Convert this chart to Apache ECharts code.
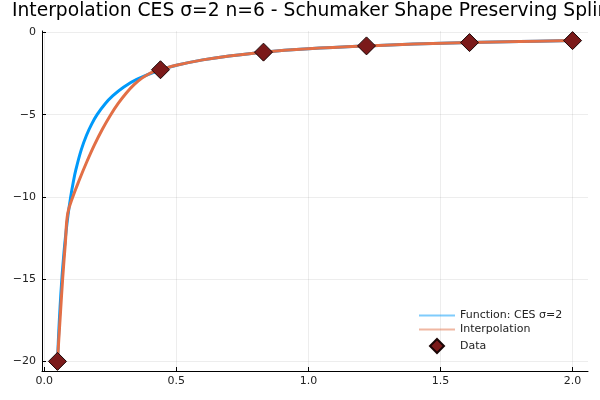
<!DOCTYPE html>
<html>
<head>
<meta charset="utf-8">
<script src="https://cdn.jsdelivr.net/npm/echarts@6/dist/echarts.min.js"></script>
<style>
  html, body { margin: 0; padding: 0; background: #fff; }
  #chart { width: 600px; height: 400px; }
</style>
</head>
<body>
<div id="chart"></div>
<script>
// values
const funcX = [0.05, 0.055, 0.06, 0.065, 0.07, 0.075, 0.08, 0.09, 0.1, 0.11, 0.12, 0.14, 0.16, 0.18, 0.2, 0.23, 0.26, 0.3, 0.35, 0.44, 0.5, 0.6, 0.7, 0.83, 1.0, 1.22, 1.4, 1.61, 1.8, 2.0];
const funcY = [-20, -18.18, -16.67, -15.38, -14.29, -13.33, -12.5, -11.11, -10, -9.09, -8.33, -7.14, -6.25, -5.56, -5, -4.35, -3.85, -3.33, -2.86, -2.27, -2, -1.67, -1.43, -1.2, -1, -0.82, -0.71, -0.62, -0.56, -0.5];

const interpX = [0.05, 0.06, 0.07, 0.08, 0.089, 0.11, 0.133, 0.16, 0.19, 0.22, 0.25, 0.28, 0.31, 0.34, 0.37, 0.40, 0.42, 0.44, 0.5, 0.6, 0.7, 0.83, 1.0, 1.22, 1.4, 1.61, 1.8, 2.0];
const interpY = [-20, -17.4, -14.9, -12.8, -11.0, -9.92, -8.96, -7.91, -6.84, -5.89, -5.05, -4.32, -3.70, -3.18, -2.78, -2.49, -2.35, -2.27, -2.0, -1.67, -1.43, -1.2, -1.0, -0.82, -0.71, -0.62, -0.56, -0.5];

const dataX = [0.05, 0.44, 0.83, 1.22, 1.61, 2.0];
const dataY = [-20, -2.27, -1.2, -0.82, -0.62, -0.5];

const xTicks = [0, 0.5, 1.0, 1.5, 2.0];
const yTicks = [-20, -15, -10, -5, 0];

function pairs(xs, ys) {
  return xs.map((x, i) => [x, ys[i]]);
}

const lineIcon = "path://M0,0 L36,0 L36,2 L0,2 Z";
const diamondIcon = "path://M6,0 L12,6 L6,12 L0,6 Z";

var chart = echarts.init(document.getElementById("chart"), null, { renderer: "canvas" });

var option = {
  animation: false,
  title: {
    text: "Interpolation CES σ=2 n=6 - Schumaker Shape Preserving Spline",
    left: 12,
    top: 2,
    padding: 0,
    textStyle: { fontFamily: "DejaVu Sans", fontSize: 18.7, fontWeight: "normal", color: "#000" },
  },
  grid: { left: 42, right: 12, top: 31, bottom: 29, containLabel: false },
  legend: {
    orient: "vertical",
    left: 419,
    top: 310,
    padding: 0,
    itemWidth: 36,
    itemHeight: 14,
    itemGap: 3,
    symbolKeepAspect: true,
    textStyle: { fontFamily: "DejaVu Sans", fontSize: 11, color: "#222" },
    data: [
      { name: "Function: CES σ=2", icon: lineIcon, itemStyle: { opacity: 0.5 } },
      { name: "Interpolation", icon: lineIcon, itemStyle: { opacity: 0.5 } },
      { name: "Data", icon: diamondIcon },
    ],
  },
  xAxis: {
    type: "value",
    min: -0.0085,
    max: 2.0585,
    axisLine: { onZero: false, lineStyle: { color: "#000", width: 1 } },
    axisTick: { inside: true, length: 4, customValues: xTicks, lineStyle: { color: "#000" } },
    axisLabel: {
      customValues: xTicks,
      margin: 5,
      fontFamily: "DejaVu Sans",
      fontSize: 11,
      color: "#222",
      formatter: (v) => v.toFixed(1),
    },
    splitLine: { show: true, lineStyle: { color: "rgba(0,0,0,0.07)", width: 1 } },
  },
  yAxis: {
    type: "value",
    min: -20.585,
    max: 0.085,
    axisLine: { show: true, onZero: false, lineStyle: { color: "#000", width: 1 } },
    axisTick: { show: true, inside: true, length: 4, customValues: yTicks, lineStyle: { color: "#000" } },
    axisLabel: {
      customValues: yTicks,
      margin: 6,
      fontFamily: "DejaVu Sans",
      fontSize: 11,
      color: "#222",
      formatter: (v) => String(v).replace("-", "\u2212"),
    },
    splitLine: { show: true, lineStyle: { color: "rgba(0,0,0,0.07)", width: 1 } },
  },
  series: [
    {
      name: "Function: CES σ=2",
      type: "line",
      smooth: 0.4,
      symbol: "none",
      data: pairs(funcX, funcY),
      lineStyle: { color: "#009AFA", width: 3 },
      itemStyle: { color: "#009AFA" },
      z: 2,
    },
    {
      name: "Interpolation",
      type: "line",
      smooth: 0.4,
      symbol: "none",
      data: pairs(interpX, interpY),
      lineStyle: { color: "#E26F46", width: 3 },
      itemStyle: { color: "#E26F46" },
      z: 3,
    },
    {
      name: "Data",
      type: "scatter",
      symbol: "diamond",
      symbolSize: 18,
      data: pairs(dataX, dataY),
      itemStyle: { color: "#7B1A1A", borderColor: "#1a0505", borderWidth: 1, opacity: 1 },
      z: 4,
    },
  ],
};

chart.setOption(option);
window.addEventListener("resize", chart.resize);
</script>
</body>
</html>
